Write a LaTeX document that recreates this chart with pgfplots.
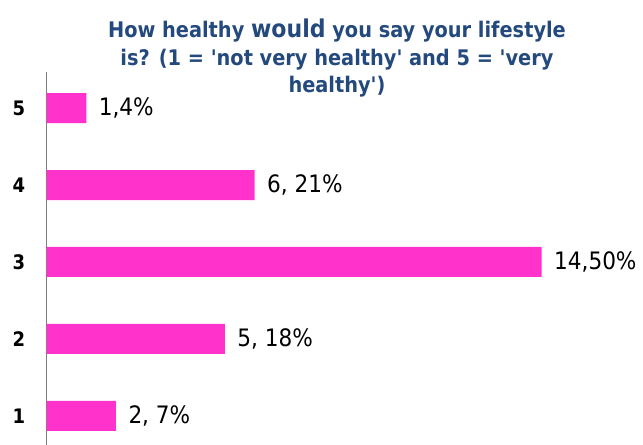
\documentclass[border=0pt]{standalone}
\usepackage{pgfplots}
\pgfplotsset{compat=1.18}
\usepackage{fontspec}
\setmainfont{DejaVu Sans Condensed}[Ligatures=TeXOff]
\definecolor{barpink}{HTML}{FF33CC}
\definecolor{titleblue}{HTML}{24497D}
\begin{document}
\begin{tikzpicture}
\useasboundingbox (0,0) rectangle (643bp,445bp);
\begin{axis}[
  at={(46.7bp,0bp)}, anchor=south west,
  scale only axis, width=594bp, height=373bp,
  xmin=0, xmax=60, ymin=0.62, ymax=5.47,
  xbar, bar width=30bp,
  axis x line=none, axis y line*=left,
  y axis line style={color=gray, line width=1.5bp},
  ytick={1,2,3,4,5},
  major tick length=0pt,
  /pgf/number format/assume math mode=true,
  yticklabel style={font=\fontsize{20bp}{24bp}\selectfont\bfseries, xshift=-18bp},
  nodes near coords, point meta=explicit symbolic,
  nodes near coords style={font=\fontsize{24bp}{28bp}\selectfont, anchor=west, xshift=9bp, text=black},
]
\addplot[fill=barpink, draw=none] coordinates {
  (7,1) [2, 7\%]
  (18,2) [5, 18\%]
  (50,3) [14,50\%]
  (21,4) [6, 21\%]
  (4,5) [1,4\%]
};
\end{axis}
\node[align=center, anchor=north, inner sep=0pt, text=titleblue,
  font=\fontsize{21.5bp}{27.5bp}\selectfont\bfseries] at (337bp,426bp)
  {How healthy {\fontsize{24.5bp}{27.5bp}\selectfont would} you say your lifestyle\\
   is? (1 = 'not very healthy' and 5 = 'very\\ healthy')};
\end{tikzpicture}
\end{document}
